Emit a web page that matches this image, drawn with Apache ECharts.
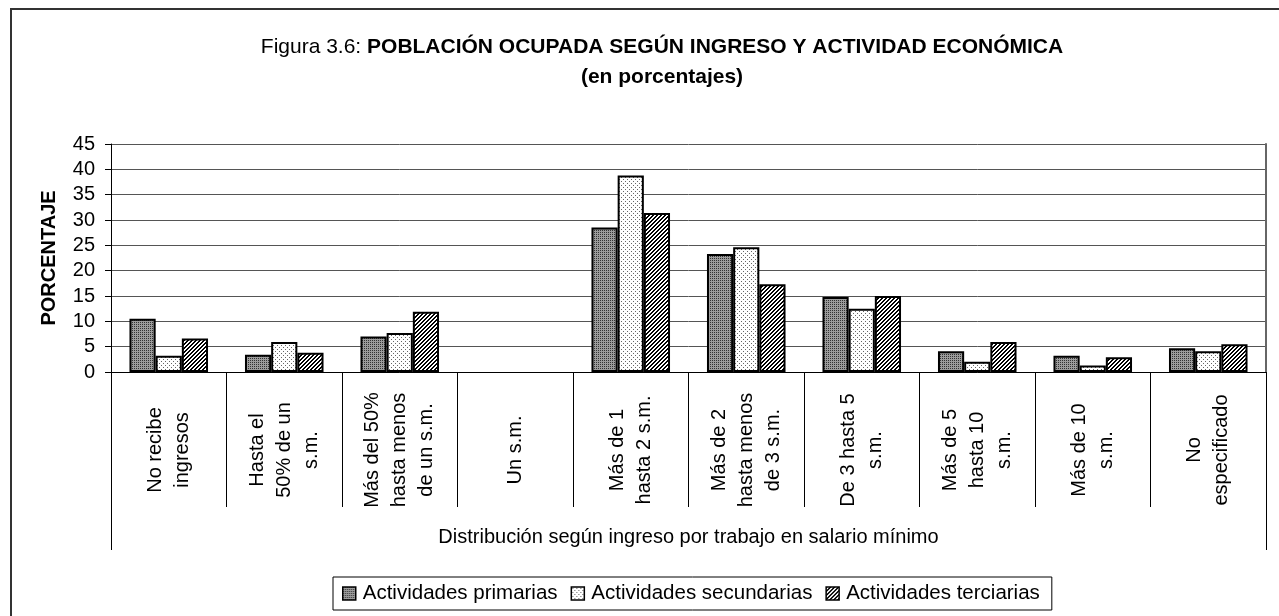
<!DOCTYPE html>
<html>
<head>
<meta charset="utf-8">
<script src="https://cdn.jsdelivr.net/npm/echarts@6/dist/echarts.min.js"></script>
<style>
  html, body { margin: 0; padding: 0; background: #fff; }
  #chart { width: 1279px; height: 616px; }
</style>
</head>
<body>
<div id="chart"></div>
<script>
// categorias de ingreso (salario minimo)
const categorias = [
  'No recibe\ningresos',
  'Hasta el\n50% de un\ns.m.',
  'Más del 50%\nhasta menos\nde un s.m.',
  'Un s.m.',
  'Más de 1\nhasta 2 s.m.',
  'Más de 2\nhasta menos\nde 3 s.m.',
  'De 3 hasta 5\ns.m.',
  'Más de 5\nhasta 10\ns.m.',
  'Más de 10\ns.m.',
  'No\nespecificado'
];
const grupo = ['Distribución según ingreso por trabajo en salario mínimo'];
const primarias = [10.5, 3.4, 7.0, '-', 28.5, 23.3, 14.8, 4.1, 3.2, 4.7];
const secundarias = [3.2, 5.9, 7.7, '-', 38.8, 24.6, 12.5, 2.0, 1.3, 4.1];
const terciarias = [6.6, 3.8, 11.9, '-', 31.4, 17.3, 15.0, 5.9, 2.9, 5.5];
const nombres = ['Actividades primarias', 'Actividades secundarias', 'Actividades terciarias'];
const yTicks = { min: 0, max: 45, interval: 5 };

const FONT = '"Liberation Sans", Arial, sans-serif';

// tramas de relleno estilo excel
function trama(size, draw) {
  const c = document.createElement('canvas');
  c.width = size; c.height = size;
  const ctx = c.getContext('2d');
  draw(ctx);
  return { image: c, repeat: 'repeat' };
}
const tramaPrim = trama(2, ctx => {
  ctx.fillStyle = '#9c9c9c'; ctx.fillRect(0, 0, 2, 2);
  ctx.fillStyle = '#333333'; ctx.fillRect(0, 0, 1, 1);
});
const tramaSec = trama(4, ctx => {
  ctx.fillStyle = '#ffffff'; ctx.fillRect(0, 0, 4, 4);
  ctx.fillStyle = '#666666'; ctx.fillRect(1, 1, 1, 1); ctx.fillRect(3, 3, 1, 1);
});
const tramaTer = trama(4, ctx => {
  ctx.fillStyle = '#ffffff'; ctx.fillRect(0, 0, 4, 4);
  ctx.fillStyle = '#000000';
  for (let y = 0; y < 4; y++) {
    ctx.fillRect((7 - y) % 4, y, 1, 1);
    ctx.fillRect((8 - y) % 4, y, 1, 1);
  }
});

const chart = echarts.init(document.getElementById('chart'), null, { renderer: 'canvas' });

function serie(name, data, color) {
  return {
    name: name,
    type: 'bar',
    xAxisIndex: 0,
    data: data,
    barGap: '0%',
    barCategoryGap: '32%',
    itemStyle: { color: color, borderColor: '#000', borderWidth: 2 },
    emphasis: { disabled: true }
  };
}

const option = {
  animation: false,
  graphic: [
    {
      type: 'rect',
      shape: { x: 11, y: 9, width: 1400, height: 700 },
      style: { fill: 'none', stroke: '#333', lineWidth: 2 },
      silent: true
    },
    {
      type: 'text',
      x: 662, y: 32,
      style: {
        text: '{n|Figura 3.6: }{b|POBLACIÓN OCUPADA SEGÚN INGRESO Y ACTIVIDAD ECONÓMICA}\n{b|(en porcentajes)}',
        align: 'center',
        fill: '#000',
        rich: {
          n: { fontFamily: FONT, fontSize: 21, lineHeight: 30, fill: '#000' },
          b: { fontFamily: FONT, fontSize: 21, fontWeight: 'bold', lineHeight: 30, fill: '#000' }
        }
      },
      silent: true
    }
  ],
  legend: {
    data: nombres,
    left: 333,
    top: 577,
    padding: [6, 12, 6, 9],
    borderColor: '#000',
    borderWidth: 1,
    itemWidth: 13,
    itemHeight: 13,
    itemGap: 13,
    icon: 'rect',
    itemStyle: { borderColor: '#000', borderWidth: 1.5 },
    textStyle: { fontFamily: FONT, fontSize: 20.5, color: '#000', padding: [0, 0, 0, 2] }
  },
  grid: { left: 111, right: 13, top: 144, bottom: 244, containLabel: false },
  xAxis: [
    {
      type: 'category',
      data: categorias,
      position: 'bottom',
      axisLine: { lineStyle: { color: '#000', width: 1 } },
      axisTick: { show: true, interval: 0, length: 135, lineStyle: { color: '#000' } },
      axisLabel: {
        interval: 0,
        rotate: 90,
        align: 'center',
        margin: 78,
        fontFamily: FONT,
        fontSize: 20,
        lineHeight: 27,
        color: '#000'
      }
    },
    {
      type: 'category',
      data: grupo,
      position: 'bottom',
      offset: 0,
      axisLine: { show: false },
      axisTick: { show: true, length: 178, lineStyle: { color: '#000' } },
      axisLabel: { margin: 155, fontFamily: FONT, fontSize: 20, color: '#000' }
    }
  ],
  yAxis: [
    {
      type: 'value',
      min: yTicks.min,
      max: yTicks.max,
      interval: yTicks.interval,
      name: 'PORCENTAJE',
      nameLocation: 'middle',
      nameGap: 52,
      nameTextStyle: { fontFamily: FONT, fontSize: 20, fontWeight: 'bold', color: '#000' },
      axisLine: { show: true, lineStyle: { color: '#000', width: 1 } },
      axisTick: { show: true, length: 6, lineStyle: { color: '#000' } },
      axisLabel: { margin: 16, fontFamily: FONT, fontSize: 20, color: '#000' },
      splitLine: { show: true, lineStyle: { color: '#555', width: 1 } }
    },
    {
      type: 'value',
      position: 'right',
      min: yTicks.min,
      max: yTicks.max,
      interval: yTicks.interval,
      axisLine: { show: true, lineStyle: { color: '#666', width: 2 } },
      axisTick: { show: false },
      axisLabel: { show: false },
      splitLine: { show: false }
    }
  ],
  series: [
    serie(nombres[0], primarias, tramaPrim),
    serie(nombres[1], secundarias, tramaSec),
    serie(nombres[2], terciarias, tramaTer)
  ]
};

chart.setOption(option);
</script>
</body>
</html>
